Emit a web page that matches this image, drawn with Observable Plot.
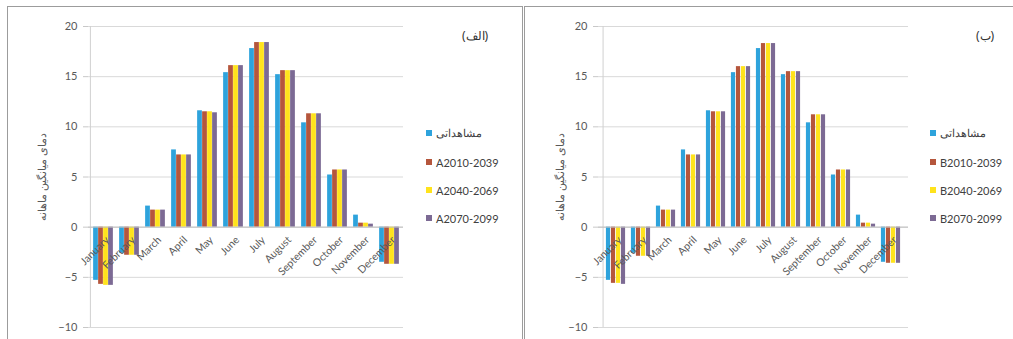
<!DOCTYPE html>
<html>
<head>
<meta charset="utf-8">
<script src="https://cdn.jsdelivr.net/npm/d3@7"></script>
<script src="https://cdn.jsdelivr.net/npm/@observablehq/plot@0.6"></script>
<style>
  html, body { margin: 0; padding: 0; background: #fff; }
  body { width: 1013px; height: 339px; position: relative; overflow: hidden; font-family: Lato, "Open Sans", sans-serif; }
  .panel { position: absolute; top: 6px; height: 360px; border: 1.5px solid #9c9c9c; box-sizing: border-box; }
  .chart { position: absolute; top: 10px; }
  .legend { position: absolute; font-size: 11px; color: #404040; }
  .legend div { position: absolute; white-space: nowrap; display: flex; align-items: center; height: 14px; }
  .legend span.sw { display: inline-block; width: 6px; height: 6px; margin-right: 4px; }
  .tag { position: absolute; font-size: 12px; color: #333; font-family: "Noto Sans", sans-serif; }
</style>
</head>
<body>
<div class="panel" style="left:7px; width:516px;"></div>
<div class="panel" style="left:524px; width:500px;"></div>
<div id="chartA" class="chart" style="left:10px;"></div>
<div id="chartB" class="chart" style="left:527px;"></div>
<div id="legendA" class="legend" style="left:426px; top:0;"></div>
<div id="legendB" class="legend" style="left:930px; top:0;"></div>
<div class="tag" style="left:462px; top:27px;">(الف)</div>
<div class="tag" style="left:976px; top:27px;">(ب)</div>
<script>
// Mean monthly temperature: observed vs. three future periods
const months = ["January", "February", "March", "April", "May", "June", "July",
  "August", "September", "October", "November", "December"];
const yTicks = [-10, -5, 0, 5, 10, 15, 20];
const yTitle = "دمای میانگین ماهانه";
const observedLabel = "مشاهداتی";

const observed = [-5.3, -2.6, 2.1, 7.7, 11.6, 15.4, 17.8, 15.2, 10.4, 5.2, 1.2, -3.5];

// Scenario A
const seriesA = ["A2010-2039", "A2040-2069", "A2070-2099"];
const a2010 = [-5.7, -2.8, 1.7, 7.2, 11.5, 16.1, 18.4, 15.6, 11.3, 5.7, 0.4, -3.7];
const a2040 = [-5.8, -2.8, 1.7, 7.2, 11.5, 16.1, 18.4, 15.6, 11.3, 5.7, 0.4, -3.7];
const a2070 = [-5.8, -2.8, 1.7, 7.2, 11.4, 16.1, 18.4, 15.6, 11.3, 5.7, 0.3, -3.7];

// Scenario B
const seriesB = ["B2010-2039", "B2040-2069", "B2070-2099"];
const b2010 = [-5.6, -2.9, 1.7, 7.2, 11.5, 16.0, 18.3, 15.5, 11.2, 5.7, 0.4, -3.6];
const b2040 = [-5.6, -2.9, 1.7, 7.2, 11.5, 16.0, 18.3, 15.5, 11.2, 5.7, 0.4, -3.6];
const b2070 = [-5.7, -2.9, 1.7, 7.2, 11.5, 16.0, 18.3, 15.5, 11.2, 5.7, 0.3, -3.6];

const colors = ["#2ea3dc", "#b5563c", "#ffe31c", "#7c6a94"];

function drawPanel(target, names, valueLists, opts) {
  const {width, marginLeft, marginRight, labelOffset} = opts;
  const height = 329, marginTop = 16, marginBottom = 12;
  const band = (width - marginLeft - marginRight) / months.length;
  const barW = 5;
  const inset = (band - barW) / 2;

  const barMarks = valueLists.map((vals, i) =>
    Plot.barY(months.map((m, j) => ({month: m, value: vals[j]})), {
      x: "month", y: "value", fill: colors[i],
      insetLeft: inset, insetRight: inset,
      dx: (i - 1.5) * barW
    })
  );

  const chart = Plot.plot({
    width, height, marginLeft, marginRight, marginTop, marginBottom,
    style: {fontFamily: "Lato, 'Open Sans', sans-serif", fontSize: "11px", color: "#595959", background: "transparent"},
    x: {domain: months, padding: 0, axis: null},
    y: {domain: [-10, 20]},
    marks: [
      Plot.ruleY(yTicks, {stroke: "#d9d9d9", strokeWidth: 1}),
      Plot.ruleX([months[0]], {x: () => months[0], dx: -band / 2, stroke: "#d0d0d0"}),
      Plot.axisY({ticks: yTicks, tickSize: 5, tickPadding: 6, stroke: "#c8c8c8",
        label: yTitle, labelAnchor: "center", labelArrow: "none", labelOffset,
        fontSize: 11}),
      ...barMarks,
      Plot.ruleY([0], {stroke: "#bfbfbf"}),
      Plot.text(months, {x: d => d, y: () => 0, text: d => d, rotate: -45,
        textAnchor: "end", dx: 4, dy: 11, fill: "#595959", fontSize: 10.5})
    ]
  });
  document.getElementById(target).appendChild(chart);
}

function drawLegend(target, labels) {
  const el = document.getElementById(target);
  const tops = [126, 155, 183, 211];
  labels.forEach((t, i) => {
    const row = document.createElement("div");
    row.style.top = tops[i] + "px";
    row.innerHTML = `<span class="sw" style="background:${colors[i]}"></span><span>${t}</span>`;
    el.appendChild(row);
  });
}

drawPanel("chartA", [observedLabel, ...seriesA], [observed, a2010, a2040, a2070],
  {width: 400, marginLeft: 78, marginRight: 7, labelOffset: 50});
drawPanel("chartB", [observedLabel, ...seriesB], [observed, b2010, b2040, b2070],
  {width: 390, marginLeft: 71, marginRight: 9, labelOffset: 42});
drawLegend("legendA", [observedLabel, ...seriesA]);
drawLegend("legendB", [observedLabel, ...seriesB]);
</script>
</body>
</html>
